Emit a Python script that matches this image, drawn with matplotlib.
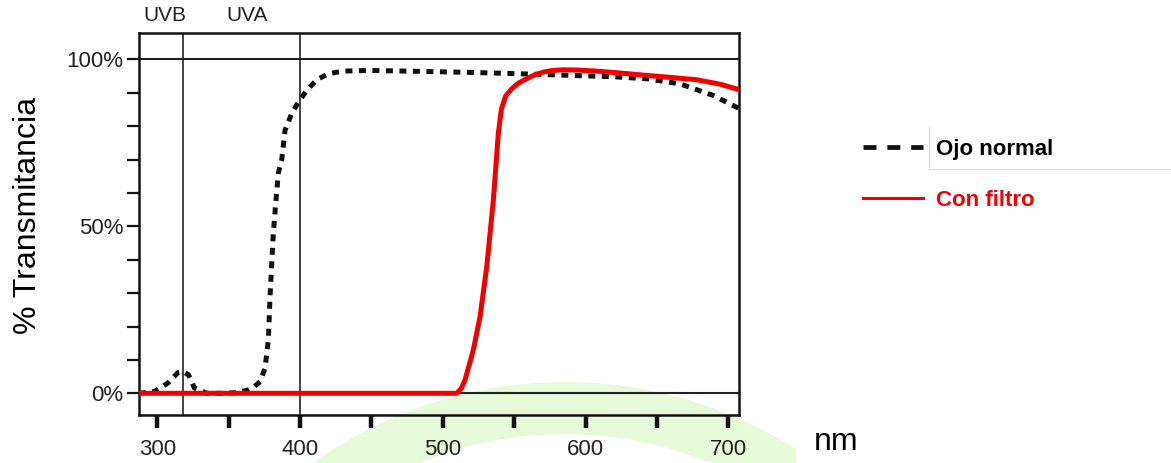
import matplotlib
matplotlib.use("Agg")
import matplotlib.pyplot as plt
from matplotlib.lines import Line2D
from matplotlib.patches import Wedge, Rectangle
from matplotlib.ticker import MultipleLocator, FixedLocator

# Ojo normal (dotted black curve), wavelength in nm vs % transmittance
ojo_nm = [287, 298, 307.5, 314.5, 318, 322, 326, 334.8, 345, 355.9, 363.6, 368,
          372, 375.5, 377.8, 379, 380.2, 381.3, 383, 384.8, 387.2, 389.5, 394.2,
          398.8, 404.7, 411.7, 419.8, 430.3, 449, 486, 520, 554, 591, 620, 643,
          666, 689.5, 708]
ojo_pct = [0, 0.5, 3.1, 6.2, 6.5, 5.5, 1.6, 0, 0, 0.2, 1, 2, 3.5, 7.5, 16, 29,
           39, 48, 57, 66, 70, 78.8, 83.8, 87.2, 90.7, 93.9, 95.7, 96.5, 96.7,
           96.4, 96.1, 95.7, 95.2, 94.8, 94.2, 92.7, 89.2, 85.2]

# Con filtro (solid red curve)
filtro_nm = [287, 400, 509.8, 513, 515.6, 521.4, 526.1, 530.8, 535.4, 538.9,
             541, 544, 548.3, 553, 558.8, 564, 570.4, 577, 584.4, 595, 607.6,
             625, 643, 660, 678, 694, 708]
filtro_pct = [0, 0, 0, 1.5, 4, 13, 23, 37.9, 57.8, 77.8, 85, 89, 91.2, 92.9,
              94.2, 95.3, 96.2, 96.7, 96.9, 96.8, 96.5, 95.9, 95.2, 94.6, 93.9,
              92.6, 90.9]

band_edges = [318, 400]
band_labels = ["UVB", "UVA"]
band_label_x = [305, 363]

x_ticks = [300, 400, 500, 600, 700]
y_ticks = [0, 50, 100]
y_tick_labels = ["0%", "50%", "100%"]

narrow = ["Liberation Sans Narrow", "Liberation Sans", "DejaVu Sans"]
arial = ["Liberation Sans", "DejaVu Sans"]

W, H = 1171, 463
fig = plt.figure(figsize=(W / 100, H / 100), dpi=100)

# slide background: faint green arc, in pixel units
bg = fig.add_axes([0, 0, 1, 1], zorder=0)
bg.set_xlim(0, W)
bg.set_ylim(H, 0)
bg.axis("off")
arc = Wedge((565, 814), 432, 180, 360, width=52, facecolor="#e6f9d8",
            edgecolor="none")
bg.add_patch(arc)
arc.set_clip_path(Rectangle((0, 0), 796, H, transform=bg.transData))
# thin grey box edge near legend
bg.plot([929, 929, W], [127, 169, 169], color="#dddddd", lw=0.8)

ax = fig.add_axes([139 / W, 1 - 415 / H, 600.3 / W, 382.3 / H], zorder=1)
ax.set_facecolor("none")

ax.plot(ojo_nm, ojo_pct, color="#111111", lw=3.6, dashes=(1.4, 1.3),
        dash_capstyle="butt", solid_capstyle="butt", zorder=3)
ax.plot(filtro_nm, filtro_pct, color="#f20000", lw=3.6, zorder=4)

for v in band_edges:
    ax.axvline(v, color="#222222", lw=1.2, zorder=2)
for y in [0, 100]:
    ax.axhline(y, color="#222222", lw=1.5, zorder=2)
for lbl, xx in zip(band_labels, band_label_x):
    ax.text(xx, 111.5, lbl, ha="center", va="baseline", fontsize=15,
            family=narrow, color="#222222")

ax.set_xlim(287.2, 707.7)
ax.set_ylim(-6.5, 108)
ax.xaxis.set_major_locator(FixedLocator(x_ticks))
ax.xaxis.set_minor_locator(MultipleLocator(50))
ax.yaxis.set_major_locator(FixedLocator(y_ticks))
ax.yaxis.set_minor_locator(MultipleLocator(10))
ax.set_yticklabels(y_tick_labels)
ax.tick_params(axis="x", which="both", length=9, width=3.2, color="#111111",
               pad=8, labelsize=16, labelcolor="#222222")
ax.tick_params(axis="y", which="both", length=9, width=1.6, color="#111111",
               pad=2, labelsize=16, labelcolor="#222222")
for lab in ax.get_xticklabels() + ax.get_yticklabels():
    lab.set_family(narrow)
for sp in ax.spines.values():
    sp.set_linewidth(1.8)
    sp.set_color("#111111")

ax.set_ylabel("% Transmitancia", fontsize=23, family=arial)
ax.yaxis.set_label_coords(-0.16, 0.523)
ax.set_xlabel("nm", fontsize=23, family=arial)
ax.xaxis.set_label_coords(1.161, -0.0916)
ax.xaxis.label.set_verticalalignment("baseline")

handles = [Line2D([], [], color="#111111", lw=3.4, dashes=(2.75, 2.3),
                  dash_capstyle="butt"),
           Line2D([], [], color="#f20000", lw=2.2)]
leg = fig.legend(handles, ["Ojo normal", "Con filtro"], loc="upper left",
                 bbox_to_anchor=(863 / W, 1 - 139 / H), frameon=False,
                 borderpad=0, borderaxespad=0, handlelength=2.7,
                 handletextpad=0.6, labelspacing=1.33,
                 prop={"family": arial, "weight": "bold", "size": 16})
leg.get_texts()[1].set_color("#f20000")

fig.savefig("out.png", dpi=100)
